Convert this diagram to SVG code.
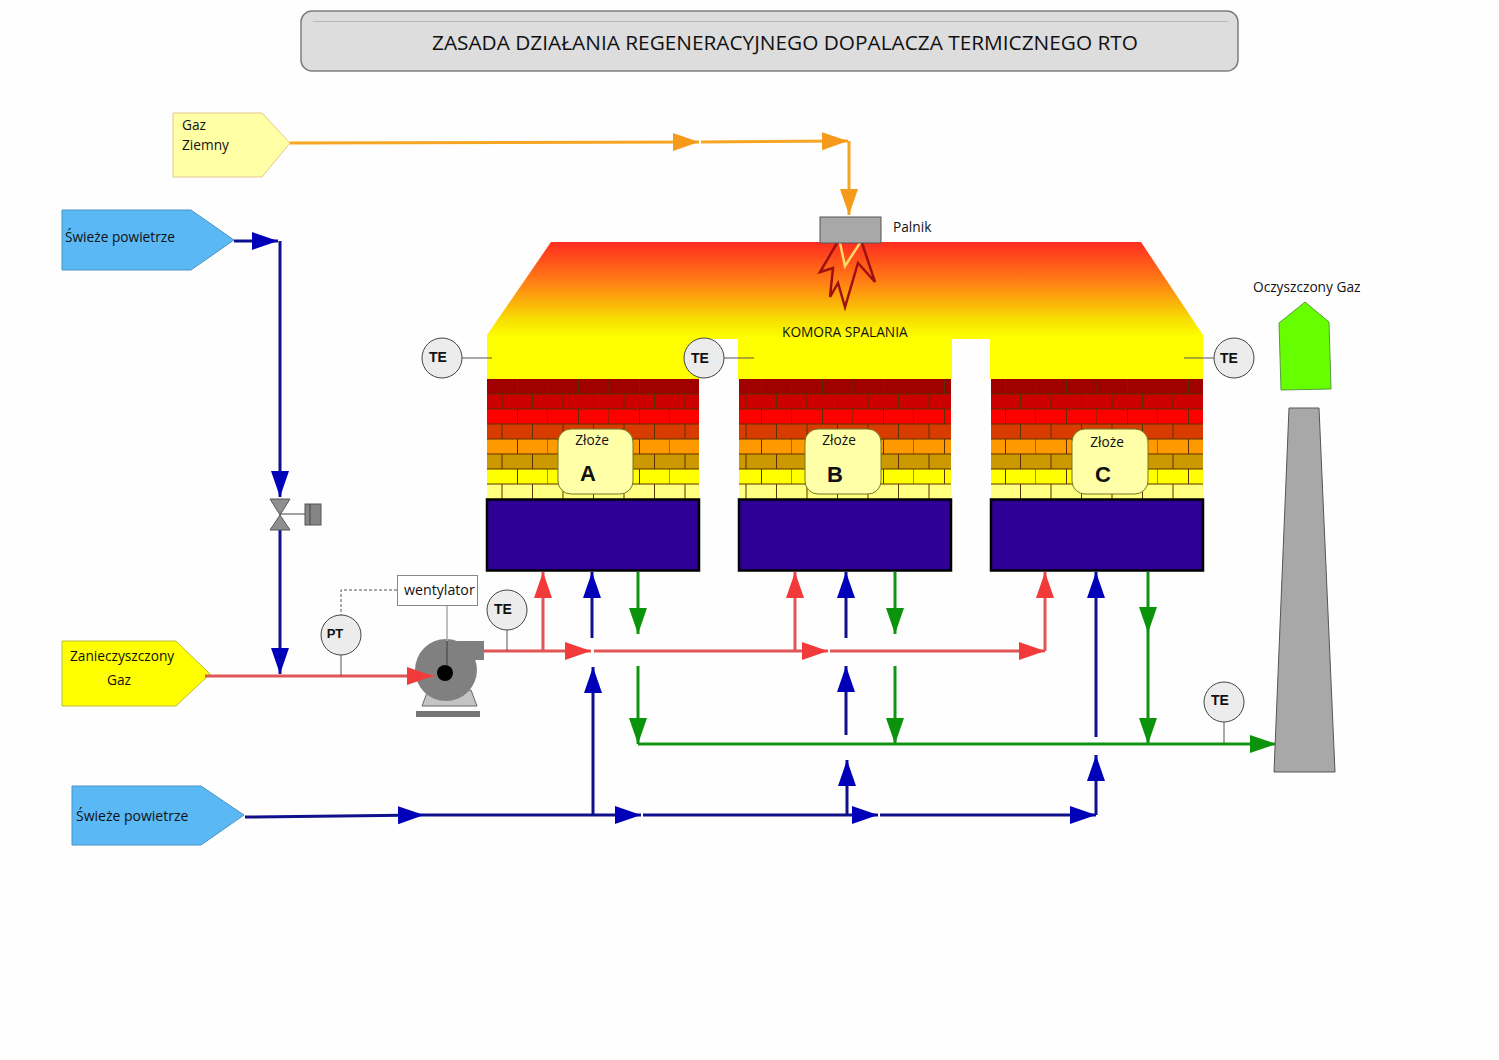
<svg xmlns="http://www.w3.org/2000/svg" width="1499" height="1060" viewBox="0 0 1499 1060">
<style>
text{font-family:"Open Sans","Noto Sans",sans-serif;font-size:13.700px;fill:#111}
.b{font-family:"Liberation Sans",Arial,sans-serif;font-weight:700}
.te circle{fill:#ececec;stroke:#444;stroke-width:1}
.te line{stroke:#555;stroke-width:1}
.te text{font-family:"Liberation Sans",Arial,sans-serif;font-weight:700;font-size:14px;text-anchor:middle}
.zl rect{fill:#ffffa8;stroke:#77771f;stroke-width:1}
.blk{fill:#2e0096;stroke:#000;stroke-width:2.5}
.brk{stroke:none}
#connectors path{fill:none;stroke-width:3}
.o{stroke:#f5a623;marker-end:url(#mo)}
.n{stroke:#10108c;marker-end:url(#mn)}
.r{stroke:#e05555;marker-end:url(#mr)}
.g{stroke:#119411;marker-end:url(#mg)}
</style>
<defs>
<marker id="mo" markerUnits="userSpaceOnUse" markerWidth="28" markerHeight="20" refX="26" refY="9" orient="auto"><path d="M0 0L26 9L0 18z" fill="#f59a1a"/></marker>
<marker id="mn" markerUnits="userSpaceOnUse" markerWidth="28" markerHeight="20" refX="26" refY="9" orient="auto"><path d="M0 0L26 9L0 18z" fill="#0000b8"/></marker>
<marker id="mr" markerUnits="userSpaceOnUse" markerWidth="28" markerHeight="20" refX="26" refY="9" orient="auto"><path d="M0 0L26 9L0 18z" fill="#f23a3a"/></marker>
<marker id="mg" markerUnits="userSpaceOnUse" markerWidth="28" markerHeight="20" refX="26" refY="9" orient="auto"><path d="M0 0L26 9L0 18z" fill="#0b940b"/></marker>
<linearGradient id="fire" x1="0" y1="0" x2="0" y2="1"><stop offset="0" stop-color="#ff2c20"/><stop offset="0.3" stop-color="#ff8214"/><stop offset="0.57" stop-color="#f6e000"/><stop offset="0.7" stop-color="#ffff00"/><stop offset="1" stop-color="#ffff00"/></linearGradient>
<pattern id="bricks" patternUnits="userSpaceOnUse" x="487" y="379" width="61" height="120">
<rect width="61" height="15" fill="#a00000"/><rect y="15" width="61" height="15" fill="#cc0000"/><rect y="30" width="61" height="15" fill="#ff0000"/><rect y="45" width="61" height="15" fill="#d93c00"/><rect y="60" width="61" height="15" fill="#ff9900"/><rect y="75" width="61" height="15" fill="#cc9900"/><rect y="90" width="61" height="15" fill="#ffff00"/><rect y="105" width="61" height="15" fill="#ffff80"/>
<path d="M0 15H61M0 30H61M0 45H61M0 60H61M0 75H61M0 90H61M0 105H61M30.5 0V15M61 0V15M15 15V30M45.5 15V30M30.5 30V45M61 30V45M15 45V60M45.500 45V60M30.5 60V75M61 60V75M15 75V90M45.5 75V90M30.5 90V105M61 90V105M15 105V120M45.5 105V120" stroke="#5a3000" stroke-width="1" fill="none"/>
</pattern>
</defs>
<rect width="1499" height="1060" fill="#fefefe"/>
<g id="title"><rect x="301" y="11" width="937" height="60" rx="11" fill="#dddddd" stroke="#7d7d7d" stroke-width="1.5"/><line x1="313" y1="21.500" x2="1228" y2="21.500" stroke="#b8b8b8"/><text x="785" y="50" text-anchor="middle" style="font-size:20.800px">ZASADA DZIAŁANIA REGENERACYJNEGO DOPALACZA TERMICZNEGO RTO</text></g>
<g id="chamber"><path d="M551 242H1141L1203 335V379H990V339H952V379H738V339H699V379H487V335Z" fill="url(#fire)"/><text x="782" y="337">KOMORA SPALANIA</text></g>
<g id="bed-a"><rect class="brk" x="487" y="379" width="212" height="120" fill="url(#bricks)"/><rect class="blk" x="487" y="499.500" width="212" height="71"/><g class="zl"><rect x="558" y="429" width="75" height="65" rx="13"/><text x="592" y="445" text-anchor="middle">Złoże</text><text class="b" x="588" y="481" text-anchor="middle" style="font-size:22px">A</text></g></g>
<g id="bed-b"><rect class="brk" x="739" y="379" width="212" height="120" fill="url(#bricks)"/><rect class="blk" x="739" y="499.500" width="212" height="71"/><g class="zl"><rect x="805" y="429" width="76" height="65" rx="13"/><text x="839" y="445" text-anchor="middle">Złoże</text><text class="b" x="835" y="482" text-anchor="middle" style="font-size:22px">B</text></g></g>
<g id="bed-c"><rect class="brk" x="991" y="379" width="212" height="120" fill="url(#bricks)"/><rect class="blk" x="991" y="499.500" width="212" height="71"/><g class="zl"><rect x="1072" y="429" width="76" height="65" rx="13"/><text x="1107" y="447" text-anchor="middle">Złoże</text><text class="b" x="1103" y="482" text-anchor="middle" style="font-size:22px">C</text></g></g>
<g id="gaz-ziemny"><path d="M173 113H262L290 143L262 177H173Z" fill="#ffffa6" stroke="#e4c88a"/><text x="182" y="130">Gaz</text><text x="182" y="150">Ziemny</text></g>
<g id="swieze-1"><path d="M62 210H191L234 240L191 270H62Z" fill="#5ab8f5" stroke="#4c94c4"/><text x="65" y="242">Świeże powietrze</text></g>
<g id="swieze-2"><path d="M72 786H201L244 815L201 845H72Z" fill="#5ab8f5" stroke="#4c94c4"/><text x="76" y="821" style="font-size:14px">Świeże powietrze</text></g>
<g id="zanieczyszczony"><path d="M62 641H176L210 674L176 706H62Z" fill="#ffff00" stroke="#bcbc40"/><text x="70" y="661">Zanieczyszczony</text><text x="107" y="685">Gaz</text></g>
<g id="fan"><path d="M422 706H477L471 690H428Z" fill="#c4c4c4" stroke="#666"/><rect x="416" y="711" width="64" height="6" fill="#757575"/><circle cx="446" cy="670" r="31" fill="#808080"/><rect x="446" y="641" width="38" height="19" fill="#808080"/><line x1="447" y1="605" x2="447" y2="641" stroke="#aaa" stroke-width="1.500"/><line x1="447" y1="641" x2="447" y2="665" stroke="#555" stroke-width="1.500"/><circle cx="445" cy="673" r="8" fill="#000"/></g>
<g id="connectors">
<path class="o" d="M290 143L699 142"/><path class="o" d="M701 142L848 141"/><path class="o" d="M849 141V215"/>
<path class="n" d="M234 241H278"/><path class="n" d="M280 241V497"/><path class="n" d="M280 530V674"/>
<path class="r" d="M205 676H433"/><path class="r" d="M484 651H591"/><path class="r" d="M543 651V572"/><path class="r" d="M594 651H828"/><path class="r" d="M795 651V572"/><path class="r" d="M830 651H1045"/><path class="r" d="M1045 651V572"/>
<path class="n" d="M592 638V572"/><path class="n" d="M593 815V667"/><path class="n" d="M846 638V572"/><path class="n" d="M846 735V666"/><path class="n" d="M847 815V760"/><path class="n" d="M1096 737V572"/><path class="n" d="M1096 815V755"/>
<path class="n" d="M245 817L424 815"/><path class="n" d="M424 815H641"/><path class="n" d="M643 815H878"/><path class="n" d="M880 815H1096"/>
<path class="g" d="M638 572V634"/><path class="g" d="M638 666V744"/><path class="g" d="M895 572V634"/><path class="g" d="M895 666V744"/><path class="g" d="M1148 572V633"/><path class="g" d="M1148 633V744"/><path class="g" d="M638 744H1276"/>
</g>
<g id="burner"><path d="M837 243L820 272L833 268L830 297L838 283L845 307L858 263L875 282L862 243" fill="none" stroke="#a01010" stroke-width="2.500"/><path d="M840 243L845 266L860 243" fill="none" stroke="#ffd868" stroke-width="2.500"/><rect x="820" y="217" width="61" height="26" fill="#a8a8a8" stroke="#555"/><text x="893" y="232">Palnik</text></g>
<g id="valve"><line x1="280" y1="514" x2="305" y2="514" stroke="#444"/><path d="M270 499H290L280 515L290 530H270L280 515Z" fill="#8f8f8f" stroke="#555"/><rect x="305" y="504" width="16" height="21" fill="#858585" stroke="#555"/><line x1="310" y1="504" x2="310" y2="525" stroke="#444"/></g>
<g id="te-1" class="te"><line x1="462" y1="358" x2="492" y2="358"/><circle cx="442" cy="358" r="20"/><text x="438" y="362">TE</text></g>
<g id="te-2" class="te"><line x1="724" y1="358" x2="754" y2="358"/><circle cx="704" cy="358" r="20"/><text x="700" y="363">TE</text></g>
<g id="te-3" class="te"><line x1="1184" y1="358" x2="1214" y2="358"/><circle cx="1234" cy="358" r="20"/><text x="1229" y="363">TE</text></g>
<g id="te-4" class="te"><line x1="507" y1="630" x2="507" y2="651"/><circle cx="507" cy="610" r="20"/><text x="503" y="614">TE</text></g>
<g id="te-5" class="te"><line x1="1224" y1="722" x2="1224" y2="744"/><circle cx="1224" cy="702" r="20"/><text x="1220" y="705">TE</text></g>
<g id="pt" class="te"><line x1="341" y1="655" x2="341" y2="676"/><path d="M397 590H341V615" fill="none" stroke="#555" stroke-dasharray="3 2"/><circle cx="341" cy="635" r="20"/><text x="335" y="638" style="font-size:13px">PT</text></g>
<g id="wentylator"><rect x="397.500" y="575.500" width="80" height="30" fill="#fff" stroke="#888"/><text x="404" y="595" style="font-size:14.200px">wentylator</text></g>
<g id="oczyszczony"><path d="M1305 302L1329 322L1331 389L1281 390L1279 323Z" fill="#66ff00" stroke="#5a9a40"/><text x="1253" y="292">Oczyszczony Gaz</text></g>
<g id="stack"><path d="M1289 408H1319L1335 772H1274Z" fill="#a8a8a8" stroke="#555"/></g>
</svg>
